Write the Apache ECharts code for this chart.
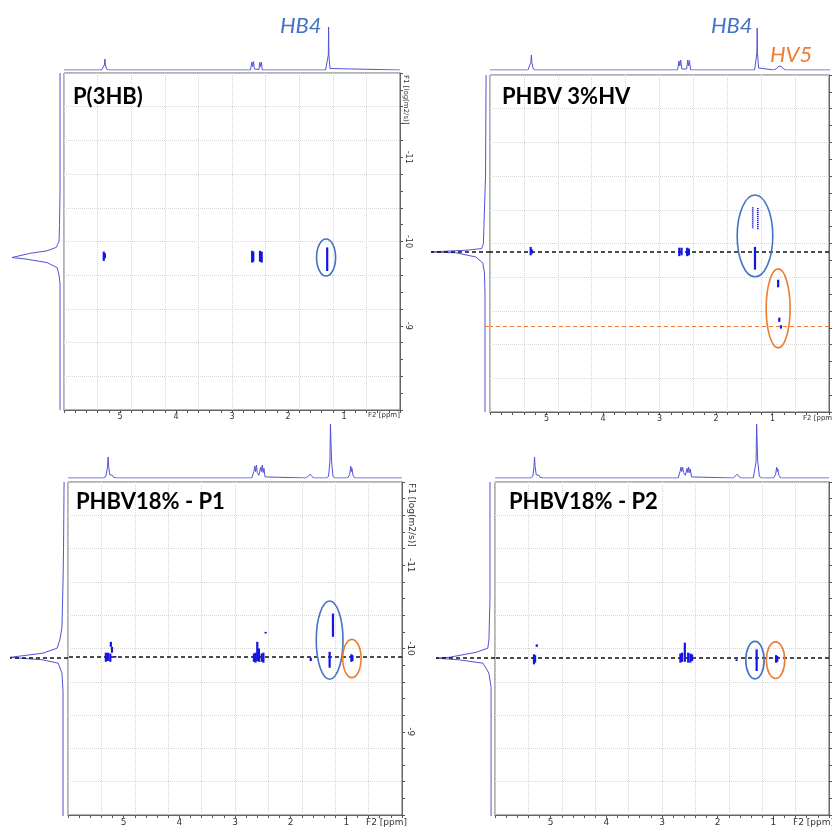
<!DOCTYPE html>
<html><head><meta charset="utf-8">
<script src="https://cdn.jsdelivr.net/npm/echarts@6/dist/echarts.min.js"></script>
<style>html,body{margin:0;padding:0;background:#fff}#c{width:832px;height:827px}</style>
</head><body><div id="c"></div>
<script>
// ---------------- DATA ----------------
const panelTitles = ['P(3HB)', 'PHBV 3%HV', 'PHBV18% - P1', 'PHBV18% - P2'];
const ppmTickLabels = [1, 2, 3, 4, 5];
const logDTickLabels = [-11, -10, -9];

// top 1D spectra: [ppm, relative intensity]
const p1Top = [[6,0],[5.33,0],[5.3,0.02],[5.28,0.1],[5.27,0.22],[5.26,0.1],[5.24,0.02],[5.2,0],[2.67,0],[2.645,0.16],[2.63,0.07],[2.615,0.17],[2.6,0.02],[2.52,0.01],[2.505,0.15],[2.49,0.07],[2.475,0.16],[2.46,0],[1.33,0],[1.3,0.03],[1.28,0.3],[1.275,0.86],[1.27,0.3],[1.25,0.03],[1.22,0],[0,0]];
const p2Top = [[6,0],[5.33,0],[5.3,0.03],[5.28,0.15],[5.27,0.3],[5.26,0.15],[5.24,0.03],[5.2,0],[2.69,0],[2.665,0.18],[2.65,0.08],[2.635,0.2],[2.615,0.02],[2.53,0.02],[2.51,0.2],[2.495,0.08],[2.48,0.19],[2.46,0],[1.33,0],[1.3,0.04],[1.29,0.35],[1.285,0.84],[1.28,0.35],[1.26,0.04],[1.23,0],[0.99,0],[0.94,0.03],[0.9,0.08],[0.86,0.07],[0.82,0.02],[0.78,0],[0.1,0],[0.07,0.04],[0.05,0],[0,0]];
const p3Top = [[6,0],[5.36,0],[5.32,0.03],[5.29,0.2],[5.28,0.39],[5.27,0.22],[5.25,0.06],[5.22,0.04],[5.2,0.05],[5.18,0.01],[5.12,0],[2.7,0],[2.66,0.12],[2.645,0.22],[2.63,0.12],[2.615,0.24],[2.6,0.1],[2.57,0.05],[2.54,0.2],[2.525,0.12],[2.51,0.24],[2.495,0.1],[2.48,0.18],[2.46,0.02],[2.43,0],[1.72,0],[1.65,0.07],[1.59,0],[1.36,0],[1.32,0.03],[1.295,0.3],[1.285,1],[1.275,1],[1.265,0.3],[1.24,0.03],[1.2,0],[0.98,0],[0.94,0.06],[0.92,0.22],[0.91,0.12],[0.9,0.18],[0.88,0.05],[0.85,0],[0,0]];
const p4Top = [[6,0],[5.36,0],[5.32,0.03],[5.3,0.2],[5.29,0.39],[5.28,0.22],[5.26,0.06],[5.23,0.04],[5.21,0.05],[5.19,0.01],[5.13,0],[2.71,0],[2.675,0.12],[2.66,0.2],[2.645,0.12],[2.63,0.2],[2.61,0.1],[2.58,0.05],[2.55,0.18],[2.535,0.1],[2.52,0.2],[2.505,0.1],[2.49,0.16],[2.47,0.02],[2.44,0],[1.72,0],[1.65,0.07],[1.59,0],[1.36,0],[1.33,0.03],[1.31,0.3],[1.3,1],[1.29,1],[1.28,0.3],[1.25,0.03],[1.21,0],[1.0,0],[0.96,0.06],[0.94,0.2],[0.93,0.12],[0.92,0.17],[0.9,0.05],[0.87,0],[0,0]];

// left 1D (diffusion) projections: [relative intensity, log D]
const p1Left = [[0,-12],[0,-10.6],[0.01,-10.2],[0.02,-10.0],[0.08,-9.93],[0.27,-9.89],[0.62,-9.86],[1.0,-9.81],[0.69,-9.79],[0.27,-9.75],[0.06,-9.69],[0.02,-9.6],[0,-9.5],[0,-8]];
const p2Left = [[-0.02,-12],[-0.01,-10.8],[0.02,-10.2],[0.03,-10.0],[0.06,-9.94],[0.35,-9.92],[1.0,-9.9],[0.54,-9.89],[0.17,-9.84],[0.04,-9.77],[0.01,-9.65],[0,-9.4],[0,-8]];
const p3Left = [[-0.02,-12],[-0.01,-11.2],[0,-10.8],[0.02,-10.26],[0.06,-10.11],[0.11,-10.01],[0.38,-9.95],[1.0,-9.9],[0.81,-9.89],[0.38,-9.87],[0.09,-9.83],[0.02,-9.71],[0,-9.5],[0,-8]];
const p4Left = [[0,-12],[0,-10.6],[0.02,-10.11],[0.04,-10.01],[0.26,-9.96],[0.76,-9.9],[1.0,-9.89],[0.57,-9.87],[0.13,-9.83],[0.02,-9.71],[-0.02,-9.54],[-0.02,-8]];

// 2D cross peaks: [ppm, logD top, logD bottom]
const p1Spots = [[5.29,-9.88,-9.77],[5.27,-9.86,-9.8],[2.64,-9.89,-9.75],[2.62,-9.88,-9.76],[2.5,-9.89,-9.76],[2.47,-9.88,-9.75],[1.3,-9.93,-9.65]];
const p2Spots = [[5.28,-9.96,-9.86],[5.26,-9.93,-9.88],[2.65,-9.95,-9.85],[2.61,-9.95,-9.86],[2.51,-9.95,-9.85],[2.48,-9.94,-9.86],[1.31,-9.96,-9.69],[0.9,-9.57,-9.48],[0.88,-9.12,-9.07],[0.85,-9.03,-8.99]];
const p2Dotted = [[1.35,-10.43,-10.18],[1.26,-10.42,-10.16]];
const p3Spots = [[5.32,-9.95,-9.84],[5.28,-9.95,-9.85],[5.24,-9.94,-9.84],[5.23,-10.08,-10.02],[5.21,-10.02,-9.95],[5.15,-9.91,-9.89],[2.66,-9.94,-9.84],[2.63,-9.95,-9.83],[2.6,-10.08,-9.85],[2.57,-10.0,-9.84],[2.52,-9.94,-9.84],[2.49,-9.95,-9.83],[2.45,-10.2,-10.18],[1.64,-9.89,-9.85],[1.24,-10.42,-10.14],[1.3,-9.96,-9.77],[0.91,-9.93,-9.84],[0.89,-9.92,-9.85]];
const p4Spots = [[5.3,-9.93,-9.81],[5.28,-9.92,-9.83],[5.25,-10.05,-10.02],[2.67,-9.94,-9.83],[2.64,-9.95,-9.84],[2.59,-10.07,-9.84],[2.53,-9.95,-9.83],[2.49,-9.94,-9.83],[2.46,-9.93,-9.85],[1.66,-9.87,-9.85],[1.3,-9.99,-9.73],[0.95,-9.92,-9.83],[0.93,-9.91,-9.84]];

// highlight ellipses: [ppm centre, logD centre, ppm radius, logD radius]
const p1BlueEll = [[1.32,-9.81,0.17,0.22]];
const p2BlueEll = [[1.31,-10.09,0.315,0.485]];
const p2OrangeEll = [[0.9,-9.23,0.212,0.469]];
const p3BlueEll = [[1.3,-10.1,0.24,0.47]];
const p3OrangeEll = [[0.9,-9.88,0.165,0.23]];
const p4BlueEll = [[1.33,-9.86,0.165,0.225]];
const p4OrangeEll = [[0.96,-9.86,0.165,0.22]];

// reference lines (log D)
const p2BlackLine = -9.9, p2OrangeLine = -9.02, p3BlackLine = -9.9, p4BlackLine = -9.89;

// ---------------- BUILD ----------------
const BLUE = '#4472c4', ORANGE = '#ed7d31', SPOT = '#1414e6', SPEC = '#5252d8';
const panels = [
  {main:[64,73,336,337], top:[64,20,336,50], left:[10,73,54,337], lmin:-0.083, lmax:1.042, showY:true,
   top1d:p1Top, left1d:p1Left, spots:p1Spots, dotted:[], blue:p1BlueEll, orange:[], black:null, orangeLine:null, lblSize:8},
  {main:[490,75,340,337], top:[490,20,340,50], left:[431,75,59,337], lmin:-0.0926, lmax:1, showY:false,
   top1d:p2Top, left1d:p2Left, spots:p2Spots, dotted:p2Dotted, blue:p2BlueEll, orange:p2OrangeEll, black:p2BlackLine, orangeLine:p2OrangeLine, lblSize:8},
  {main:[68,482,334,334], top:[68,424,334,54], left:[10,482,58,334], lmin:-0.094, lmax:1, showY:true,
   top1d:p3Top, left1d:p3Left, spots:p3Spots, dotted:[], blue:p3BlueEll, orange:p3OrangeEll, black:p3BlackLine, orangeLine:null, lblSize:9},
  {main:[495,482,334,334], top:[495,424,334,54], left:[436,482,59,334], lmin:-0.0926, lmax:1, showY:false,
   top1d:p4Top, left1d:p4Left, spots:p4Spots, dotted:[], blue:p4BlueEll, orange:p4OrangeEll, black:p4BlackLine, orangeLine:null, lblSize:9}
];

const grid = [], xAxis = [], yAxis = [], series = [];
const near = (v, arr) => arr.some(t => Math.abs(v - t) < 1e-6);

function spotRender(width, dash) {
  return function (params, api) {
    const a = api.coord([api.value(0), api.value(1)]);
    const b = api.coord([api.value(0), api.value(2)]);
    return {type:'line', shape:{x1:a[0], y1:a[1], x2:b[0], y2:b[1]},
      style:{stroke:SPOT, lineWidth:width, lineDash:dash || null, lineCap:'butt'}};
  };
}
function ellRender(color) {
  return function (params, api) {
    const c = api.coord([api.value(0), api.value(1)]);
    const s = api.size([api.value(2), api.value(3)]);
    return {type:'ellipse', shape:{cx:c[0], cy:c[1], rx:Math.abs(s[0]), ry:Math.abs(s[1])},
      style:{fill:'none', stroke:color, lineWidth:1.6}};
  };
}

panels.forEach((p, i) => {
  const g0 = grid.length;
  grid.push({left:p.main[0], top:p.main[1], width:p.main[2], height:p.main[3], show:true, borderColor:'#666', borderWidth:1, backgroundColor:'#fff'});
  grid.push({left:p.top[0], top:p.top[1], width:p.top[2], height:p.top[3]});
  grid.push({left:p.left[0], top:p.left[1], width:p.left[2], height:p.left[3]});
  const x0 = xAxis.length, y0 = yAxis.length;
  xAxis.push({type:'value', gridIndex:g0, min:0, max:6, inverse:true, interval:0.2, position:'bottom',
    axisLine:{show:true, lineStyle:{color:'#666'}}, axisTick:{show:true, length:3, lineStyle:{color:'#555'}},
    axisLabel:{show:true, margin:3, fontSize:p.lblSize, color:'#333', fontFamily:'DejaVu Sans',
      formatter: v => near(v, ppmTickLabels) ? String(Math.round(v)) : ''},
    splitLine:{show:false}});
  xAxis.push({type:'value', gridIndex:g0, min:0, max:6, inverse:true, interval:0.6,
    axisLine:{show:false}, axisTick:{show:false}, axisLabel:{show:false},
    splitLine:{show:true, lineStyle:{color:'#d6d6d6', type:'dotted', width:1}}});
  xAxis.push({type:'value', gridIndex:g0+1, min:0, max:6, inverse:true, show:false});
  xAxis.push({type:'value', gridIndex:g0+2, min:p.lmin, max:p.lmax, inverse:true, show:false});

  yAxis.push({type:'value', gridIndex:g0, min:-12, max:-8, inverse:true, interval:0.2, position:'right',
    axisLine:{show:true, lineStyle:{color:'#666'}}, axisTick:{show:true, length:3, lineStyle:{color:'#555'}},
    axisLabel:{show:p.showY, rotate:-90, margin:4, fontSize:p.lblSize, color:'#333', fontFamily:'DejaVu Sans',
      formatter: v => near(v, logDTickLabels) ? String(Math.round(v)) : ''},
    splitLine:{show:false}});
  yAxis.push({type:'value', gridIndex:g0, min:-12, max:-8, inverse:true, interval:0.4,
    axisLine:{show:false}, axisTick:{show:false}, axisLabel:{show:false},
    splitLine:{show:true, lineStyle:{color:'#d6d6d6', type:'dotted', width:1}}});
  yAxis.push({type:'value', gridIndex:g0+1, min:0, max:1, show:false});
  yAxis.push({type:'value', gridIndex:g0+2, min:-12, max:-8, inverse:true, show:false});

  series.push({type:'line', xAxisIndex:x0+2, yAxisIndex:y0+2, data:p.top1d, showSymbol:false, symbol:'none',
    lineStyle:{color:SPEC, width:1}, silent:true, clip:true, z:3});

  const leftMark = [];
  if (p.black !== null) leftMark.push({yAxis:p.black});
  if (p.orangeLine !== null) leftMark.push([{coord:[0, p.orangeLine], lineStyle:{color:ORANGE, type:[4,3], width:1}}, {coord:[p.lmin, p.orangeLine]}]);
  series.push({type:'line', xAxisIndex:x0+3, yAxisIndex:y0+3, data:p.left1d, showSymbol:false, symbol:'none',
    lineStyle:{color:SPEC, width:1}, silent:true, z:3,
    markLine: leftMark.length ? {silent:true, symbol:'none', label:{show:false}, animation:false,
      lineStyle:{color:'#111', type:[4,3], width:1.5}, data:leftMark} : undefined});

  const mainMark = [];
  if (p.black !== null) mainMark.push({yAxis:p.black});
  if (p.orangeLine !== null) mainMark.push({yAxis:p.orangeLine, lineStyle:{color:ORANGE, type:[4,3], width:1}});
  series.push({type:'custom', xAxisIndex:x0, yAxisIndex:y0, data:p.spots, renderItem:spotRender(2.2), silent:true, z:5,
    markLine: mainMark.length ? {silent:true, symbol:'none', label:{show:false}, animation:false,
      lineStyle:{color:'#111', type:[4,3], width:1.5}, data:mainMark} : undefined});
  if (p.dotted.length) series.push({type:'custom', xAxisIndex:x0, yAxisIndex:y0, data:p.dotted, renderItem:spotRender(1.6, [1.2,0.8]), silent:true, z:5});
  if (p.blue.length) series.push({type:'custom', xAxisIndex:x0, yAxisIndex:y0, data:p.blue, renderItem:ellRender(BLUE), silent:true, z:6});
  if (p.orange.length) series.push({type:'custom', xAxisIndex:x0, yAxisIndex:y0, data:p.orange, renderItem:ellRender(ORANGE), silent:true, z:6});
});

// ---------------- TEXT ----------------
function txt(x, y, text, opt) {
  return Object.assign({type:'text', x:x, y:y, silent:true, z:100,
    style:Object.assign({text:text, fill:'#000', fontFamily:'Lato', fontSize:12, align:'left', verticalAlign:'middle'}, opt.style || {})},
    opt.rotation !== undefined ? {rotation:opt.rotation} : {});
}
const TITLE = {fontWeight:'bold', fontSize:22, fontFamily:'Lato'};
const graphics = [
  txt(73, 97, panelTitles[0], {style:TITLE}),
  txt(502, 97, panelTitles[1], {style:TITLE}),
  txt(76, 502, panelTitles[2], {style:TITLE}),
  txt(509, 502, panelTitles[3], {style:TITLE}),
  txt(280, 26, 'HB4', {style:{fill:BLUE, fontStyle:'italic', fontSize:22}}),
  txt(711, 26, 'HB4', {style:{fill:BLUE, fontStyle:'italic', fontSize:22}}),
  txt(770, 55, 'HV5', {style:{fill:ORANGE, fontStyle:'italic', fontSize:22}}),
  txt(368, 415, 'F2 [ppm]', {style:{fontSize:7, fontFamily:'DejaVu Sans', fill:'#333'}}),
  txt(803, 418, 'F2 [ppm]', {style:{fontSize:7, fontFamily:'DejaVu Sans', fill:'#333'}}),
  txt(366, 823, 'F2 [ppm]', {style:{fontSize:9, fontFamily:'DejaVu Sans', fill:'#333'}}),
  txt(793, 823, 'F2 [ppm]', {style:{fontSize:9, fontFamily:'DejaVu Sans', fill:'#333'}}),
  txt(406, 75, 'F1 [log(m2/s)]', {rotation:-Math.PI/2, style:{fontSize:7, fontFamily:'DejaVu Sans', fill:'#333'}}),
  txt(411, 483, 'F1 [log(m2/s)]', {rotation:-Math.PI/2, style:{fontSize:9, fontFamily:'DejaVu Sans', fill:'#333'}})
];

const chart = echarts.init(document.getElementById('c'), null, {renderer:'canvas'});
chart.setOption({backgroundColor:'#fff', animation:false, grid, xAxis, yAxis, series, graphic:graphics});
</script>
</body></html>
